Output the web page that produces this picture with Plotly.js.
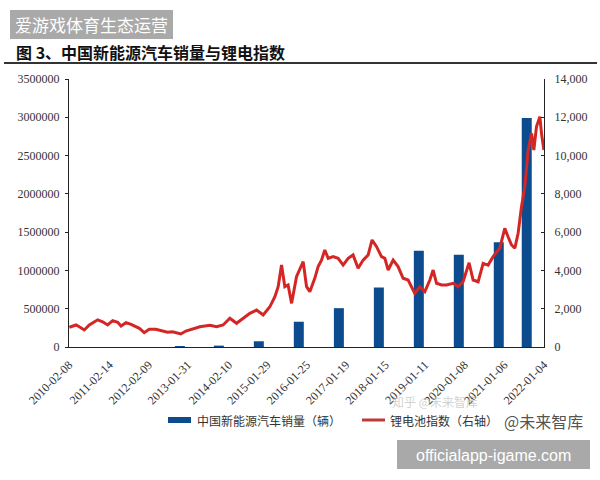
<!DOCTYPE html>
<html><head><meta charset="utf-8">
<script src="https://cdn.plot.ly/plotly-3.0.1.min.js"></script>
<style>body{margin:0;background:#fff}</style>
</head><body>
<div id="chart" style="width:600px;height:480px"></div>
<script>
// ---- data ----
const tickDates = ['2010-02-08','2011-02-14','2012-02-09','2013-01-31','2014-02-10','2015-01-29','2016-01-25','2017-01-19','2018-01-15','2019-01-11','2020-01-08','2021-01-06','2022-01-04'];
const tickLabels = tickDates.slice();

const barDates = ['2012-11-19','2013-11-11','2014-11-12','2015-11-13','2016-11-14','2017-11-15','2018-11-16','2019-11-17','2020-11-17','2021-07-31'];
const barValues = [13000, 18000, 75000, 330000, 507000, 777000, 1256000, 1206000, 1367000, 2990000];

const lineDates = ['2010-02-11','2010-04-13','2010-05-13','2010-06-28','2010-08-13','2010-10-29','2010-12-13','2011-01-28','2011-03-15','2011-04-30',
'2011-05-30','2011-07-15','2011-08-30','2011-10-14','2011-11-14','2011-12-29','2012-02-12','2012-04-13','2012-06-14','2012-07-29',
'2012-09-13','2012-11-28','2013-01-13','2013-02-19','2013-03-30','2013-05-21','2013-08-21','2013-10-21','2013-12-20','2014-02-20',
'2014-04-22','2014-06-22','2014-08-22','2014-10-22','2014-12-22','2015-02-21','2015-04-08','2015-05-08','2015-06-08','2015-07-08',
'2015-08-07','2015-09-08','2015-10-23','2015-12-23','2016-01-23','2016-02-22','2016-04-08','2016-05-08','2016-06-08','2016-07-08',
'2016-08-08','2016-09-22','2016-11-07','2016-12-23','2017-02-07','2017-03-24','2017-05-09','2017-06-24','2017-08-09','2017-09-14',
'2017-10-25','2017-12-09','2018-01-09','2018-02-08','2018-03-26','2018-05-10','2018-06-25','2018-08-10','2018-10-10','2018-11-25',
'2019-01-10','2019-02-25','2019-03-27','2019-04-27','2019-06-12','2019-07-27','2019-09-26','2019-11-11','2019-12-26','2020-02-19',
'2020-03-27','2020-05-12','2020-06-27','2020-08-11','2020-09-26','2020-11-26','2021-01-11','2021-02-10','2021-03-14','2021-04-13',
'2021-05-13','2021-06-13','2021-07-13','2021-08-13','2021-09-13','2021-10-04','2021-10-28','2021-11-28','2021-12-13','2022-01-04'];
const lineValues = [1030,1150,1060,890,1150,1420,1320,1150,1375,1290,
1100,1270,1185,1060,975,750,925,925,850,770,
800,680,835,890,950,1060,1130,1060,1150,1500,
1240,1500,1760,1930,1670,2100,2630,3150,4280,3150,
3240,2280,3670,4460,3150,2890,3600,4200,4540,5070,
4630,4720,4630,4280,4630,4810,4110,4540,4810,5590,
5240,4720,4630,4020,4540,4200,3590,3500,2800,3150,
2890,3500,4020,3330,3240,3240,3330,3150,3410,4400,
3500,3410,4370,4280,4720,5160,6200,5760,5330,5160,
5940,7330,8370,10290,11160,10290,11500,12030,11160,10290];

const barName = '中国新能源汽车销量（辆）';
const lineName = '锂电池指数（右轴）';
const titleText = '图 3、中国新能源汽车销量与锂电指数';

// ---- layout helpers (pixel -> paper) ----
const L = 69, R = 544, T = 79, B = 347;
const px = x => (x - L) / (R - L);
const py = y => (B - y) / (B - T);

const BLUE = '#0d4b8f', RED = '#d42624';
const serif = 'Liberation Serif, Times New Roman, serif';
const cjk = 'Noto Sans CJK SC, sans-serif';

const traces = [
  {type:'bar', x: barDates, y: barValues, name: barName, marker:{color: BLUE},
   width: 10 * 9.154 * 86400000, yaxis:'y', hoverinfo:'skip'},
  {type:'scatter', mode:'lines', x: lineDates, y: lineValues, name: lineName,
   line:{color: RED, width: 3}, yaxis:'y2', hoverinfo:'skip'}
];

const layout = {
  width:600, height:480,
  margin:{l:L, r:600-R, t:T, b:480-B, pad:0},
  paper_bgcolor:'#fff', plot_bgcolor:'#fff',
  showlegend:false,
  xaxis:{type:'date', range:['2010-02-08','2022-01-05'], tickvals: tickDates, ticktext: tickLabels,
    tickangle:-45, showline:true, linecolor:'#222', linewidth:1, ticks:'', showgrid:false, zeroline:false,
    ticklabelstandoff:5, tickfont:{family:serif, size:12, color:'#333'}, automargin:false},
  yaxis:{range:[0,3500000], dtick:500000, tickformat:'d', showline:true, linecolor:'#222', linewidth:1,
    ticks:'outside', ticklen:3, tickcolor:'#222', showgrid:false, zeroline:false, ticklabelstandoff:3,
    tickfont:{family:serif, size:12, color:'#333'}, automargin:false},
  yaxis2:{range:[0,14000], dtick:2000, tickformat:',', overlaying:'y', side:'right', showline:true,
    linecolor:'#222', linewidth:1, ticks:'inside', ticklen:3, tickcolor:'#222', showgrid:false, zeroline:false,
    ticklabelstandoff:7, tickfont:{family:serif, size:12, color:'#333'}, automargin:false},
  shapes:[
    {type:'line', xref:'paper', yref:'paper', x0:px(4), x1:px(597), y0:py(63), y1:py(63), line:{color:'#333', width:2}},
    {type:'rect', xref:'paper', yref:'paper', x0:px(10), x1:px(173), y0:py(10), y1:py(39), fillcolor:'#a9a9a9', line:{width:0}},
    {type:'rect', xref:'paper', yref:'paper', x0:px(397), x1:px(590), y0:py(440), y1:py(469), fillcolor:'#a9a9a9', line:{width:0}},
    {type:'rect', xref:'paper', yref:'paper', x0:px(168), x1:px(191), y0:py(417), y1:py(423), fillcolor:BLUE, line:{width:0}},
    {type:'line', xref:'paper', yref:'paper', x0:px(362), x1:px(385), y0:py(420), y1:py(420), line:{color:'#c0393a', width:3}}
  ],
  annotations:[
    {text:'<b>'+titleText+'</b>', xref:'paper', yref:'paper', x:px(14), y:py(52), xanchor:'left', yanchor:'middle',
     showarrow:false, font:{family:cjk, size:16, color:'#111'}},
    {text:'爱游戏体育生态运营', xref:'paper', yref:'paper', x:px(91.5), y:py(25), xanchor:'center', yanchor:'middle',
     showarrow:false, font:{family:cjk, size:17, color:'#fff'}},
    {text:'officialapp-igame.com', xref:'paper', yref:'paper', x:px(493.5), y:py(455), xanchor:'center', yanchor:'middle',
     showarrow:false, font:{family:'Liberation Sans, Arial, sans-serif', size:16, color:'#fff'}},
    {text:barName, xref:'paper', yref:'paper', x:px(195), y:py(420), xanchor:'left', yanchor:'middle',
     showarrow:false, font:{family:cjk, size:12, color:'#333'}},
    {text:lineName, xref:'paper', yref:'paper', x:px(388), y:py(420), xanchor:'left', yanchor:'middle',
     showarrow:false, font:{family:cjk, size:12, color:'#333'}},
    {text:'知乎 @未来智库', xref:'paper', yref:'paper', x:px(390), y:py(401), xanchor:'left', yanchor:'middle',
     showarrow:false, font:{family:cjk, size:12, color:'rgba(170,170,170,0.55)'}},
    {text:'@未来智库', xref:'paper', yref:'paper', x:px(585), y:py(421), xanchor:'right', yanchor:'middle',
     showarrow:false, font:{family:cjk, size:16, color:'rgba(60,60,60,0.9)'}}
  ]
};

Plotly.newPlot('chart', traces, layout, {staticPlot:true, displayModeBar:false});
</script>
</body></html>
